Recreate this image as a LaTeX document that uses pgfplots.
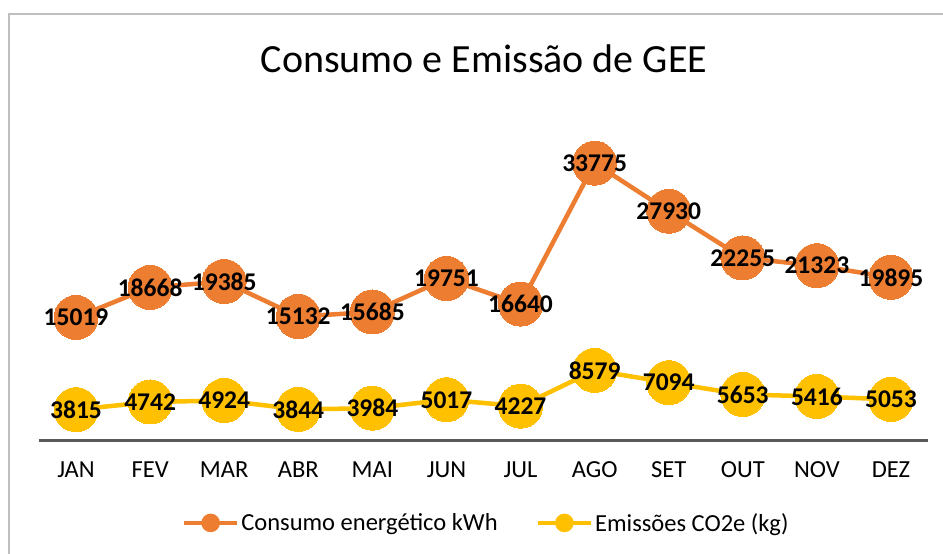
\documentclass[border=0pt]{standalone}
\usepackage{pgfplots}
\pgfplotsset{compat=1.18}
\usepackage{fontspec}
\setmainfont{Carlito}
\definecolor{orangeC}{HTML}{ED7D31}
\definecolor{yellowC}{HTML}{FFC000}
\definecolor{axisG}{HTML}{595959}
\definecolor{borderG}{HTML}{BFBFBF}
\begin{document}
\begin{tikzpicture}[x=1pt,y=1pt]
\path[use as bounding box] (0,0) rectangle (943,554);
\fill[white] (0,0) rectangle (943,554);
\draw[borderG, line width=2pt] (9,0) -- (9,540) -- (943,540);
\node[anchor=base, font=\fontsize{40}{48}\selectfont, inner sep=0pt] at (484,481) {Consumo e Emissão de GEE};
\begin{axis}[
  at={(39pt,113pt)}, anchor=south west,
  scale only axis, width=889pt, height=329pt,
  xmin=-0.5, xmax=11.5, ymin=0, ymax=40000,
  axis y line=none, axis x line=bottom,
  x axis line style={axisG, line width=3pt, -},
  xtick={0,...,11},
  xticklabels={JAN,FEV,MAR,ABR,MAI,JUN,JUL,AGO,SET,OUT,NOV,DEZ},
  major tick length=0pt,
  xticklabel style={anchor=base, yshift=-37pt, inner sep=0pt, font=\fontsize{24.5}{28}\selectfont},
  clip=false,
  /pgf/number format/assume math mode=true,
  /pgf/number format/1000 sep={},
  nodes near coords={\pgfmathprintnumber[fixed,precision=0,1000 sep={},assume math mode=true]{\pgfplotspointmeta}},
  every node near coord/.append style={anchor=center, inner sep=0pt, text=black, font=\bfseries\fontsize{25.5}{29}\selectfont},
  legend columns=2,
  legend style={at={(0.503,-0.249)}, anchor=center, draw=none, fill=none,
    font=\fontsize{24.5}{28}\selectfont,
    nodes={inner sep=2pt},
    /tikz/every even column/.append style={column sep=36pt}},
]
\addplot[color=orangeC, line width=4.5pt, mark=*, mark size=22pt,
  mark options={solid, fill=orangeC, draw=orangeC, line width=0pt},
  legend image code/.code={\draw[orangeC, line width=4.5pt] (0pt,0pt) -- (53pt,0pt); \fill[orangeC] (26.5pt,0pt) circle (7pt);}]
coordinates {(0,15019) (1,18668) (2,19385) (3,15132) (4,15685) (5,19751) (6,16640) (7,33775) (8,27930) (9,22255) (10,21323) (11,19895)};
\addlegendentry{Consumo energético kWh}
\addplot[color=yellowC, line width=4.5pt, mark=*, mark size=22pt,
  mark options={solid, fill=yellowC, draw=yellowC, line width=0pt},
  legend image code/.code={\draw[yellowC, line width=4.5pt] (0pt,0pt) -- (53pt,0pt); \fill[yellowC] (26.5pt,0pt) circle (7pt);}]
coordinates {(0,3815) (1,4742) (2,4924) (3,3844) (4,3984) (5,5017) (6,4227) (7,8579) (8,7094) (9,5653) (10,5416) (11,5053)};
\addlegendentry{Emissões CO2e (kg)}
\end{axis}
\end{tikzpicture}
\end{document}
